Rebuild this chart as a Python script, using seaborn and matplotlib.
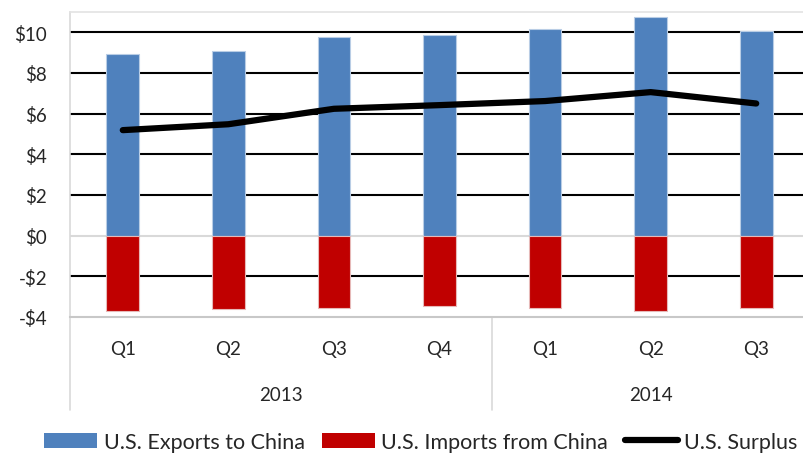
import matplotlib
matplotlib.use("Agg")
import matplotlib.pyplot as plt
import seaborn as sns
import pandas as pd
import numpy as np
from matplotlib.lines import Line2D
from matplotlib.patches import Patch
import matplotlib.transforms as mtransforms

# Quarterly U.S.-China goods trade, billions of dollars
quarters = ["Q1", "Q2", "Q3", "Q4", "Q1", "Q2", "Q3"]
years = ["2013", "2013", "2013", "2013", "2014", "2014", "2014"]
exports = [8.91, 9.07, 9.79, 9.89, 10.17, 10.76, 10.07]
imports = [-3.72, -3.59, -3.55, -3.47, -3.55, -3.70, -3.57]
surplus = [5.19, 5.48, 6.24, 6.42, 6.62, 7.06, 6.50]
year_groups = ["2013", "2014"]
ytick_values = [-4, -2, 0, 2, 4, 6, 8, 10]

sns.set_theme(style="white")
plt.rcParams["font.family"] = ["Lato", "DejaVu Sans"]

df = pd.DataFrame({
    "period": [f"{y} {q}" for y, q in zip(years, quarters)],
    "exports": exports,
    "imports": imports,
})

BLUE = "#4F81BD"
RED = "#C00000"
GRID = "#D9D9D9"

fig = plt.figure(figsize=(8.04, 4.56), dpi=100)
ax = fig.add_axes([70 / 804, 1 - 318 / 456, 739 / 804, 305 / 456])

sns.barplot(data=df, x="period", y="exports", color=BLUE, width=0.31,
            saturation=1, edgecolor="#B9CDE5", linewidth=0.8, ax=ax, zorder=3)
sns.barplot(data=df, x="period", y="imports", color=RED, width=0.31,
            saturation=1, edgecolor="#E6B9B8", linewidth=0.8, ax=ax, zorder=3)
pos = np.arange(len(surplus))
sns.lineplot(x=pos, y=surplus, color="black", linewidth=4.5, ax=ax,
             zorder=4, solid_capstyle="round", solid_joinstyle="round")

ax.set_xlim(-0.5, len(quarters) - 0.5)
ax.set_ylim(-4, 11)
ax.set_xlabel("")
ax.set_ylabel("")

# horizontal gridlines
for v in ytick_values:
    if v == 0:
        ax.axhline(v, color=GRID, lw=1.5, zorder=2)
    elif v == -4:
        continue
    else:
        ax.axhline(v, color="black", lw=1.5, zorder=1)

for s in ["top", "left", "right", "bottom"]:
    ax.spines[s].set_visible(False)
ax.spines["top"].set_visible(True)
ax.spines["top"].set_color("#E3E3E3")
ax.spines["top"].set_linewidth(1.2)
ax.spines["bottom"].set_visible(True)
ax.spines["bottom"].set_color("#C8C8C8")
ax.spines["bottom"].set_linewidth(1.5)
ax.spines["left"].set_visible(True)
ax.spines["left"].set_color(GRID)
ax.spines["left"].set_linewidth(1.2)

ax.set_yticks(ytick_values)
ax.set_yticklabels([f"-${abs(v)}" if v < 0 else f"${v}" for v in ytick_values],
                   fontsize=13.5)
ax.tick_params(axis="y", length=0, pad=16.5)
for lbl in ax.get_yticklabels():
    lbl.set_horizontalalignment("right")
ax.set_xticks([])

# two-level category axis
trans = mtransforms.blended_transform_factory(ax.transData, ax.transAxes)
for i, q in enumerate(quarters):
    ax.text(i, -0.102, q, transform=trans, ha="center", va="center", fontsize=13.5)
for yr in year_groups:
    idx = [i for i, y in enumerate(years) if y == yr]
    ax.text(np.mean(idx), -0.255, yr, transform=trans, ha="center",
            va="center", fontsize=13.5)
bounds = [-0.5] + [i + 0.5 for i in range(len(years) - 1) if years[i] != years[i + 1]]
for b in bounds:
    ax.plot([b, b], [0, -(411 - 318) / 305], transform=trans, color=GRID,
            lw=1.2, clip_on=False)

handles = [Patch(facecolor=BLUE, edgecolor="none"),
           Patch(facecolor=RED, edgecolor="none"),
           Line2D([0], [0], color="black", lw=4.5, solid_capstyle="round")]
labels = ["U.S. Exports to China", "U.S. Imports from China", "U.S. Surplus"]
fig.legend(handles, labels, loc="center", bbox_to_anchor=(421 / 804, 1 - 443 / 456),
           ncol=3, frameon=False, fontsize=15.5, handlelength=2.45, handleheight=0.7,
           handletextpad=0.3, columnspacing=0.8)

fig.savefig("out.png", dpi=100)
